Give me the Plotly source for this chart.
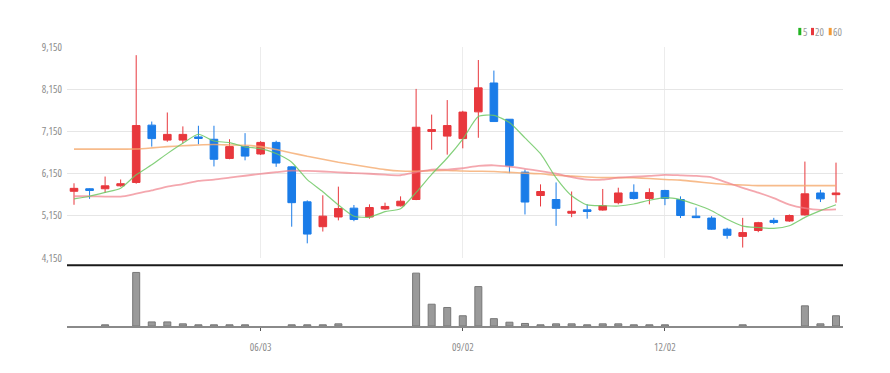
import plotly.graph_objects as go
import pandas as pd

# ---------------- data ----------------
dates = pd.date_range("2024-03-11", periods=50, freq="7D")

opens = [5730, 5790, 5790, 5860, 5940, 7300, 6945, 6945, 7020, 6965,
         6510, 6790, 6615, 6890, 6310, 5480, 4890, 5120, 5330, 5120,
         5310, 5385, 5535, 7150, 7040, 6980, 7615, 8300, 7440, 6185,
         5630, 5535, 5210, 5290, 5285, 5460, 5705, 5560, 5750, 5535,
         5140, 5095, 4830, 4660, 4800, 5040, 5025, 5170, 5690, 5650]
highs = [5920, 5800, 6080, 6010, 8960, 7385, 7600, 7270, 7285, 7285,
         6965, 7110, 6920, 6930, 6320, 5515, 5635, 5840, 5405, 5420,
         5460, 5610, 8160, 7550, 7895, 7640, 8845, 8595, 7440, 6245,
         5895, 5940, 5725, 5420, 5785, 5815, 5895, 5800, 5765, 5610,
         5345, 5140, 4865, 5100, 5005, 5100, 5180, 6435, 5765, 6410]
lows = [5410, 5550, 5690, 5840, 5910, 6790, 6905, 6870, 6845, 6320,
        6490, 6465, 6590, 6310, 4890, 4495, 4775, 5040, 5020, 5080,
        5290, 5370, 5520, 6715, 6600, 6750, 7000, 7385, 6160, 5180,
        5370, 4910, 5115, 5080, 5270, 5420, 5535, 5420, 5400, 5095,
        5095, 4815, 4605, 4395, 4760, 4950, 5005, 5155, 5475, 5460]
closes = [5800, 5750, 5860, 5910, 7290, 6980, 7080, 7080, 6985, 6490,
          6790, 6565, 6890, 6400, 5460, 4715, 5140, 5320, 5060, 5345,
          5370, 5495, 7250, 7195, 7290, 7610, 8185, 7385, 6335, 5475,
          5725, 5325, 5255, 5250, 5385, 5690, 5560, 5700, 5560, 5155,
          5105, 4830, 4685, 4750, 4985, 4990, 5155, 5670, 5550, 5690]

ma5 = [5551, 5612, 5703, 5802, 6122, 6358, 6624, 6868, 7083, 6923,
       6885, 6782, 6744, 6627, 6421, 6006, 5721, 5407, 5139, 5116,
       5247, 5318, 5704, 6131, 6520, 6968, 7506, 7533, 7361, 6998,
       6621, 6049, 5623, 5406, 5388, 5381, 5428, 5517, 5579, 5533,
       5416, 5270, 5067, 4905, 4871, 4848, 4913, 5110, 5270, 5411]
ma20 = [5612, 5612, 5605, 5604, 5673, 5749, 5840, 5901, 5977, 6007,
        6053, 6099, 6145, 6183, 6220, 6215, 6200, 6180, 6160, 6146,
        6124, 6111, 6181, 6245, 6245, 6277, 6332, 6347, 6315, 6264,
        6211, 6149, 6067, 6009, 6006, 6054, 6075, 6094, 6119, 6110,
        6097, 6063, 5935, 5813, 5698, 5567, 5415, 5329, 5288, 5299]
ma60 = [6730, 6730, 6730, 6730, 6735, 6760, 6790, 6810, 6830, 6840,
        6830, 6820, 6790, 6720, 6640, 6560, 6490, 6420, 6360, 6300,
        6245, 6210, 6205, 6220, 6225, 6210, 6205, 6200, 6180, 6160,
        6145, 6110, 6090, 6070, 6055, 6055, 6050, 6035, 6010, 5995,
        5960, 5920, 5890, 5880, 5865, 5865, 5865, 5865, 5865, 5865]

# None = no visible volume bar in the reference
volumes = [None, None, 26000, None, 1114000, 86000, 86000, 46000, 26000, 26000,
           26000, 26000, None, None, 26000, 26000, 26000, 46000, None, None,
           None, None, 1100000, 454000, 386000, 214000, 820000, 154000, 80000, 54000,
           26000, 46000, 46000, 26000, 46000, 46000, 26000, 26000, 26000, None,
           None, None, None, 26000, None, None, None, 420000, 46000, 214000]

tick_dates = ["2024-06-03", "2024-09-02", "2024-12-02"]
tick_text = ["06/03", "09/02", "12/02"]
price_ticks = [4150, 5150, 6150, 7150, 8150, 9150]
price_tick_text = ["4,150", "5,150", "6,150", "7,150", "8,150", "9,150"]

legend_items = [("5", "#22b422"), ("20", "#e8383d"), ("60", "#f39a35")]

# ---------------- figure ----------------
W, H = 890, 373
X0, X1 = 67 / W, 843 / W
FONT = "Open Sans"
xr = ["2024-03-07 20:24", "2025-02-20 03:36"]


def cond(t):
    return '<span style="font-stretch:condensed">%s</span>' % t


fig = go.Figure()

fig.add_trace(go.Scatter(x=dates, y=ma60, mode="lines", xaxis="x", yaxis="y",
                         line=dict(color="rgba(245,170,110,0.8)", width=1.6, shape="spline", smoothing=0.6),
                         hoverinfo="skip"))
fig.add_trace(go.Scatter(x=dates, y=ma20, mode="lines", xaxis="x", yaxis="y",
                         line=dict(color="rgba(240,130,140,0.7)", width=1.8, shape="spline", smoothing=0.6),
                         hoverinfo="skip"))
fig.add_trace(go.Scatter(x=dates, y=ma5, mode="lines", xaxis="x", yaxis="y",
                         line=dict(color="rgba(110,200,100,0.85)", width=1.2, shape="spline", smoothing=0.6),
                         hoverinfo="skip"))

fig.add_trace(go.Candlestick(
    x=dates, open=opens, high=highs, low=lows, close=closes,
    xaxis="x", yaxis="y",
    increasing=dict(line=dict(color="#e8383d", width=1), fillcolor="#e8383d"),
    decreasing=dict(line=dict(color="#1a7ce8", width=1), fillcolor="#1a7ce8"),
    whiskerwidth=0,
))

fig.add_trace(go.Bar(x=dates, y=volumes, xaxis="x2", yaxis="y2",
                     width=3.15 * 86400000,
                     marker=dict(color="#9a9a9a", line=dict(color="#777777", width=1))))

fig.update_layout(
    width=W, height=H,
    margin=dict(l=0, r=0, t=0, b=0),
    paper_bgcolor="white", plot_bgcolor="white",
    showlegend=False,
    font=dict(family=FONT, size=11, color="#888888"),
    xaxis=dict(domain=[X0, X1], anchor="y", type="date", range=xr,
               tickvals=tick_dates, showticklabels=False, ticks="",
               showgrid=True, gridcolor="#ececec", gridwidth=1, zeroline=False,
               rangeslider=dict(visible=False), showline=False),
    yaxis=dict(domain=[1 - 260.7 / H, 1 - 41.7 / H], range=[4149, 9151],
               tickvals=price_ticks, ticktext=[cond(t) for t in price_tick_text], ticks="",
               showgrid=True, gridcolor="#e6e6e6", gridwidth=1, zeroline=False,
               showline=False, ticklabelstandoff=4,
               tickfont=dict(family=FONT, size=10.5, color="#8c8c8c")),
    xaxis2=dict(domain=[X0, X1], anchor="y2", type="date", range=xr, matches="x",
                tickvals=tick_dates, ticktext=[cond(t) for t in tick_text], ticks="outside", ticklen=3,
                tickcolor="#555555", tickwidth=1, showline=True, linecolor="#8a8a8a",
                linewidth=1.5, showgrid=False, zeroline=False, ticklabelstandoff=8,
                tickfont=dict(family=FONT, size=10.5, color="#8c8c8c")),
    yaxis2=dict(domain=[1 - 331.5 / H, 1 - 270 / H], range=[0, 1230000],
                showticklabels=False, showgrid=False, zeroline=False, ticks=""),
)

# separator line between price and volume panels
fig.add_shape(type="line", xref="paper", yref="paper", x0=X0, x1=X1,
              y0=1 - 268.3 / H, y1=1 - 268.3 / H, line=dict(color="#1a1a1a", width=2))

# legend (top right)
lx = [798.3, 811.0, 828.7]
for (label, col), x in zip(legend_items, lx):
    fig.add_shape(type="rect", xref="paper", yref="paper",
                  x0=x / W, x1=(x + 3.0) / W, y0=1 - 29.3 / H, y1=1 - 21.7 / H,
                  line=dict(width=0), fillcolor=col)
    fig.add_annotation(x=(x + 3.4) / W, y=1 - 25.5 / H, xref="paper", yref="paper",
                       text=cond(label), showarrow=False, xanchor="left", yanchor="middle",
                       borderpad=0,
                       font=dict(family=FONT, size=10.5, color="#999999"))

fig.write_html("out.html")
